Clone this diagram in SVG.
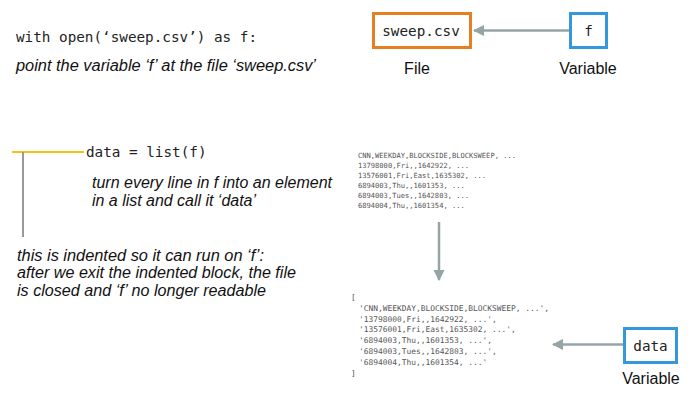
<svg xmlns="http://www.w3.org/2000/svg" width="694" height="405" viewBox="0 0 694 405">
<defs>
<style>
.code{font-family:"DejaVu Sans Mono","Liberation Mono",monospace;font-size:14.3px;fill:#222}
.note{font-family:"Liberation Sans",Arial,sans-serif;font-style:italic;font-size:16px;fill:#111}
.lbl{font-family:"Liberation Sans",Arial,sans-serif;font-size:16px;fill:#111;text-anchor:middle}
.small{font-family:"DejaVu Sans Mono","Liberation Mono",monospace;font-size:7.1px;fill:#555}
.small2{font-family:"DejaVu Sans Mono","Liberation Mono",monospace;font-size:7.9px;fill:#555}
.conn{stroke:#95A5A6;stroke-width:2.5;fill:none;marker-end:url(#ah)}
</style>
<marker id="ah" viewBox="0 0 10 10" refX="9" refY="5" markerWidth="4.5" markerHeight="4.5" orient="auto" markerUnits="strokeWidth">
<path d="M0,0 L10,5 L0,10 Z" fill="#95A5A6"/>
</marker>
</defs>
<rect width="694" height="405" fill="#fff"/>

<g id="code-open">
<text class="code" x="16" y="42">with open(‘sweep.csv’) as f:</text>
<text class="note" x="16" y="71" textLength="300" lengthAdjust="spacingAndGlyphs">point the variable ‘f’ at the file ‘sweep.csv’</text>
</g>

<g id="indent">
<line x1="12" y1="152" x2="84" y2="152" stroke="#F1C40F" stroke-width="2"/>
<line x1="23" y1="152" x2="23" y2="237" stroke="#999" stroke-width="2"/>
<text class="code" x="86" y="157">data = list(f)</text>
<text class="note" x="92" y="188" textLength="240" lengthAdjust="spacingAndGlyphs">turn every line in f into an element</text>
<text class="note" x="92" y="206" textLength="164" lengthAdjust="spacingAndGlyphs">in a list and call it ‘data’</text>
<text class="note" x="17" y="261" textLength="247" lengthAdjust="spacingAndGlyphs">this is indented so it can run on ‘f’:</text>
<text class="note" x="17" y="278" textLength="279" lengthAdjust="spacingAndGlyphs">after we exit the indented block, the file</text>
<text class="note" x="17" y="296" textLength="249" lengthAdjust="spacingAndGlyphs">is closed and ‘f’ no longer readable</text>
</g>

<g id="file-node">
<rect x="373.5" y="13.5" width="97" height="34" fill="#fff" stroke="#E67E22" stroke-width="3"/>
<text class="code" x="421" y="36" text-anchor="middle">sweep.csv</text>
<text class="lbl" x="417" y="74">File</text>
</g>

<g id="f-node">
<rect x="570.5" y="13.5" width="36" height="34" fill="#fff" stroke="#3498DB" stroke-width="3"/>
<text class="code" x="588.5" y="36" text-anchor="middle">f</text>
<text class="lbl" x="588" y="74">Variable</text>
</g>

<g id="csv-lines">
<text class="small" x="358" y="157.5">CNN,WEEKDAY,BLOCKSIDE,BLOCKSWEEP, ...</text>
<text class="small" x="358" y="167.5">13798000,Fri,,1642922, ...</text>
<text class="small" x="358" y="177.5">13576001,Fri,East,1635302, ...</text>
<text class="small" x="358" y="187.5">6894003,Thu,,1601353, ...</text>
<text class="small" x="358" y="197.5">6894003,Tues,,1642803, ...</text>
<text class="small" x="358" y="207.5">6894004,Thu,,1601354, ...</text>
</g>

<g id="list-lines">
<text class="small2" x="351" y="300">[</text>
<text class="small2" x="359" y="310.8">'CNN,WEEKDAY,BLOCKSIDE,BLOCKSWEEP, ...',</text>
<text class="small2" x="359" y="321.6">'13798000,Fri,,1642922, ...',</text>
<text class="small2" x="359" y="332.4">'13576001,Fri,East,1635302, ...',</text>
<text class="small2" x="359" y="343.2">'6894003,Thu,,1601353, ...',</text>
<text class="small2" x="359" y="354">'6894003,Tues,,1642803, ...',</text>
<text class="small2" x="359" y="364.8">'6894004,Thu,,1601354, ...'</text>
<text class="small2" x="351" y="375.6">]</text>
</g>

<g id="data-node">
<rect x="624.5" y="328.5" width="52" height="34" fill="#fff" stroke="#3498DB" stroke-width="3"/>
<text class="code" x="650.5" y="351" text-anchor="middle">data</text>
<text class="lbl" x="651" y="384">Variable</text>
</g>

<g id="connectors">
<line class="conn" x1="569" y1="30.5" x2="474" y2="30.5"/>
<line class="conn" x1="439" y1="222" x2="439" y2="280"/>
<line class="conn" x1="623" y1="344.5" x2="553" y2="344.5"/>
</g>
</svg>
